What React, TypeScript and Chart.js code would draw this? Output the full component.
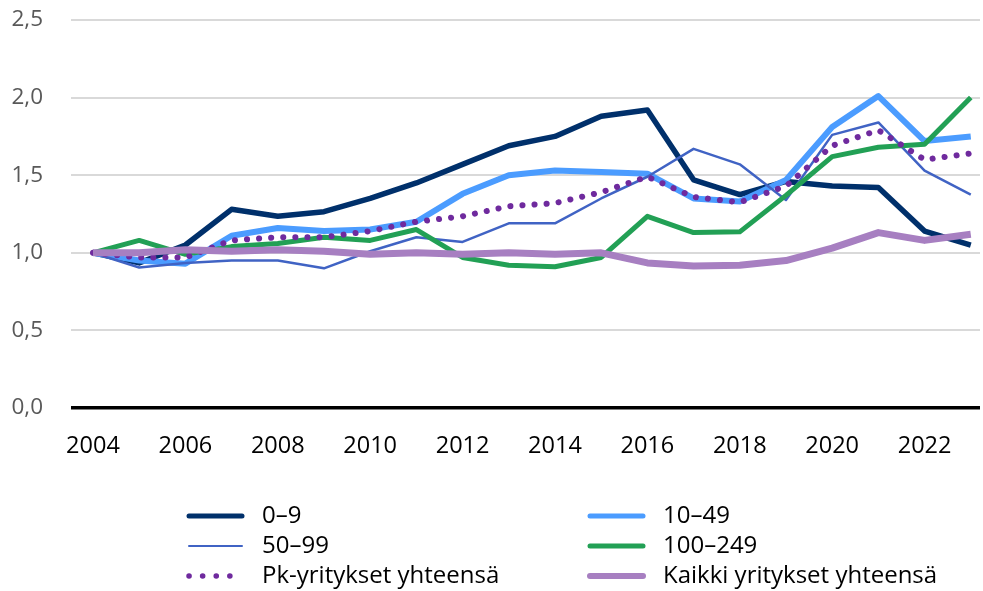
import React, { useEffect, useRef } from "react";
import { Chart, registerables } from "chart.js";

Chart.register(...registerables);

const years = [2004, 2005, 2006, 2007, 2008, 2009, 2010, 2011, 2012, 2013, 2014, 2015, 2016, 2017, 2018, 2019, 2020, 2021, 2022, 2023];
const xTickYears = [2004, 2006, 2008, 2010, 2012, 2014, 2016, 2018, 2020, 2022];
const yTickValues = [0, 0.5, 1, 1.5, 2, 2.5];

const labels = ["0–9", "10–49", "50–99", "100–249", "Pk-yritykset yhteensä", "Kaikki yritykset yhteensä"];

const s0_9 = [1.0, 0.935, 1.05, 1.28, 1.235, 1.265, 1.35, 1.45, 1.57, 1.69, 1.75, 1.88, 1.92, 1.47, 1.375, 1.46, 1.43, 1.42, 1.14, 1.05];
const s10_49 = [1.0, 0.95, 0.93, 1.11, 1.16, 1.14, 1.15, 1.2, 1.38, 1.5, 1.53, 1.52, 1.51, 1.35, 1.33, 1.47, 1.81, 2.01, 1.72, 1.75];
const s50_99 = [1.0, 0.905, 0.935, 0.95, 0.95, 0.9, 1.01, 1.1, 1.07, 1.19, 1.19, 1.35, 1.49, 1.67, 1.57, 1.34, 1.76, 1.84, 1.53, 1.375];
const s100_249 = [1.0, 1.08, 0.99, 1.04, 1.06, 1.1, 1.08, 1.15, 0.97, 0.92, 0.91, 0.97, 1.235, 1.13, 1.135, 1.37, 1.62, 1.68, 1.7, 2.0];
const sPk = [1.0, 0.97, 0.97, 1.08, 1.1, 1.1, 1.14, 1.2, 1.235, 1.3, 1.32, 1.39, 1.49, 1.36, 1.325, 1.43, 1.69, 1.79, 1.6, 1.64];
const sKaikki = [1.0, 1.0, 1.02, 1.01, 1.02, 1.01, 0.99, 1.0, 0.99, 1.0, 0.99, 1.0, 0.935, 0.915, 0.92, 0.95, 1.03, 1.13, 1.08, 1.12];

const FONT = "'Open Sans', sans-serif";

type Style = { color: string; width: number; dash?: number[]; legendWidth: number };
const styles: Style[] = [
  { color: "#00306b", width: 5.5, legendWidth: 5 },
  { color: "#4b9cff", width: 6, legendWidth: 5 },
  { color: "#4063c4", width: 2.5, legendWidth: 2 },
  { color: "#22a055", width: 5, legendWidth: 5 },
  { color: "#6f2a9e", width: 6, dash: [0.1, 12], legendWidth: 5.5 },
  { color: "#a77fc1", width: 7, legendWidth: 6 },
];

const seriesValues = [s0_9, s10_49, s50_99, s100_249, sPk, sKaikki];

const legendPlugin = {
  id: "customLegend",
  afterDraw(chart: any) {
    const ctx = chart.ctx as CanvasRenderingContext2D;
    const colX = [187, 588];
    const rowY = [516, 546, 576];
    const lineLen = 55;
    ctx.save();
    labels.forEach((label, i) => {
      const st = styles[i];
      const x = colX[i % 2];
      const y = rowY[Math.floor(i / 2)];
      ctx.beginPath();
      ctx.strokeStyle = st.color;
      ctx.lineWidth = st.legendWidth;
      ctx.lineCap = "round";
      if (st.dash) {
        ctx.setLineDash([0.1, 13.5]);
      } else {
        ctx.setLineDash([]);
      }
      ctx.moveTo(x + 2, y);
      ctx.lineTo(x + lineLen, y);
      ctx.stroke();
      ctx.setLineDash([]);
      ctx.fillStyle = "#000";
      ctx.font = `24px ${FONT}`;
      ctx.textBaseline = "middle";
      ctx.textAlign = "left";
      ctx.fillText(label, x + lineLen + 20, y);
    });
    ctx.restore();
  },
};

export default function App() {
  const ref = useRef<HTMLCanvasElement | null>(null);

  useEffect(() => {
    if (!ref.current) return;
    const datasets = seriesValues.map((vals, i) => ({
      label: labels[i],
      data: vals.map((v, j) => ({ x: years[j], y: v })),
      borderColor: styles[i].color,
      backgroundColor: styles[i].color,
      borderWidth: styles[i].width,
      borderDash: styles[i].dash || [],
      borderCapStyle: (styles[i].dash ? "round" : "butt") as CanvasLineCap,
      borderJoinStyle: "round" as CanvasLineJoin,
      pointRadius: 0,
      tension: 0,
      fill: false,
      order: 5 - i,
    }));

    const chart = new Chart(ref.current, {
      type: "line",
      data: { datasets },
      plugins: [legendPlugin],
      options: {
        animation: false,
        responsive: false,
        devicePixelRatio: 1,
        layout: { padding: { left: 12, right: 3, top: 20, bottom: 131 } },
        plugins: {
          legend: { display: false },
          tooltip: { enabled: false },
        },
        scales: {
          x: {
            type: "linear",
            min: 2003.524,
            max: 2023.2,
            afterBuildTicks: (scale: any) => {
              scale.ticks = xTickYears.map((v) => ({ value: v }));
            },
            afterFit: (scale: any) => {
              scale.paddingLeft = 0;
              scale.paddingRight = 0;
              scale.height = 52;
            },
            grid: { display: false, drawTicks: false },
            border: { display: false },
            ticks: {
              color: "#000",
              font: { family: FONT, size: 23.5 },
              padding: 24,
              maxRotation: 0,
              autoSkip: false,
              callback: (v: any) => String(v),
            },
          },
          y: {
            min: 0,
            max: 2.5,
            afterBuildTicks: (scale: any) => {
              scale.ticks = yTickValues.map((v) => ({ value: v }));
            },
            afterFit: (scale: any) => {
              scale.paddingTop = 0;
              scale.paddingBottom = 0;
              scale.width = 59;
            },
            grid: {
              color: (c: any) => (c.tick && c.tick.value === 0 ? "#000" : "#d9d9d9"),
              lineWidth: (c: any) => (c.tick && c.tick.value === 0 ? 3.5 : 2),
              drawTicks: false,
            },
            border: { display: false },
            ticks: {
              color: "#595959",
              font: { family: FONT, size: 22.5 },
              padding: 28,
              callback: (v: any) => Number(v).toFixed(1).replace(".", ","),
            },
          },
        },
      },
    });
    return () => chart.destroy();
  }, []);

  return (
    <div style={{ position: "fixed", left: 0, top: 0, width: 983, height: 591, background: "#fff" }}>
      <canvas ref={ref} width={983} height={591} style={{ display: "block" }} />
    </div>
  );
}
